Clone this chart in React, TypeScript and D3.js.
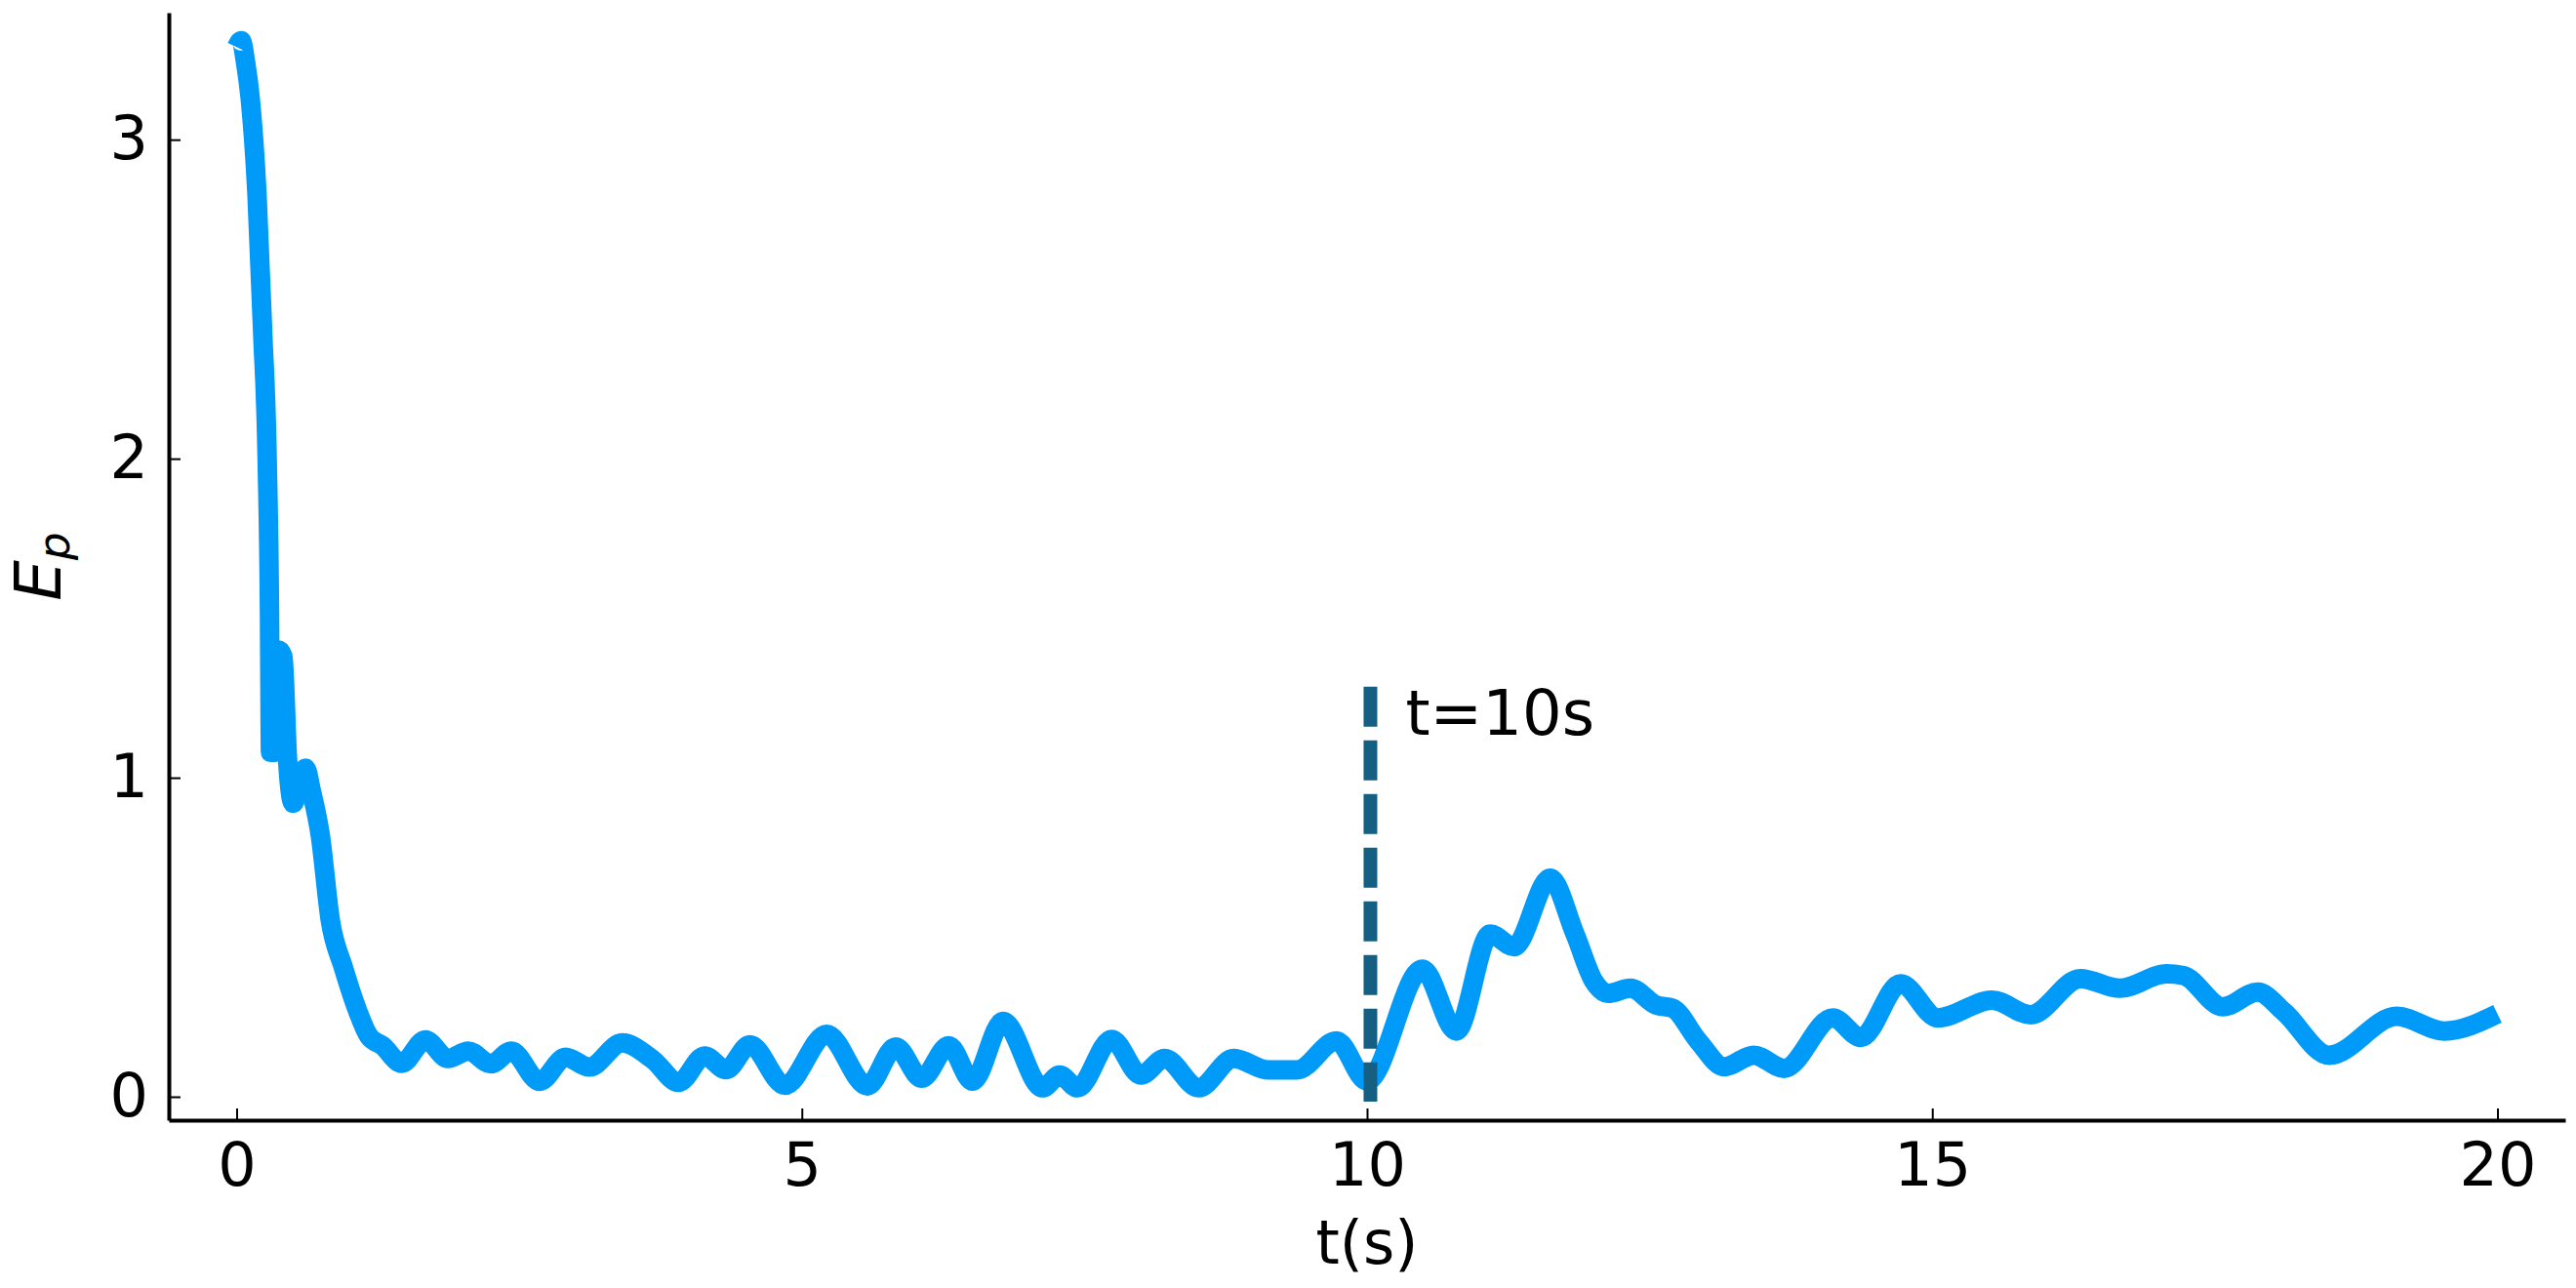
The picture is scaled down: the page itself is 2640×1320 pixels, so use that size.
import React, { useEffect, useRef } from 'react';
import * as d3 from 'd3';

// E_p over time
const timeS = [
  0, 0.04, 0.08, 0.12, 0.18, 0.23, 0.27, 0.29, 0.30, 0.32, 0.34, 0.37, 0.41, 0.45, 0.50,
  0.55, 0.61, 0.66, 0.74, 0.83, 0.94, 1.07, 1.17, 1.29, 1.46, 1.67, 1.87, 2.05, 2.25, 2.43,
  2.68, 2.91, 3.12, 3.41, 3.68, 3.91, 4.14, 4.33, 4.54, 4.85, 5.22, 5.58, 5.83, 6.06, 6.30,
  6.51, 6.78, 7.13, 7.28, 7.44, 7.74, 8.00, 8.21, 8.51, 8.82, 9.13, 9.38, 9.73, 10.0, 10.49,
  10.79, 11.09, 11.30, 11.62, 11.84, 12.01, 12.13, 12.33, 12.56, 12.70, 12.93, 13.16, 13.42,
  13.69, 14.12, 14.37, 14.72, 15.05, 15.53, 15.87, 16.31, 16.66, 17.07, 17.22, 17.57, 17.88,
  18.11, 18.51, 19.11, 19.53, 20.0,
];
const energy = [
  3.29, 3.31, 3.24, 3.13, 2.83, 2.40, 2.00, 1.55, 1.08, 1.40, 1.08, 1.40, 1.38, 1.06, 0.92,
  0.97, 1.03, 0.96, 0.82, 0.55, 0.41, 0.27, 0.19, 0.16, 0.105, 0.178, 0.12, 0.143, 0.103, 0.143,
  0.048, 0.124, 0.093, 0.169, 0.117, 0.045, 0.128, 0.085, 0.163, 0.036, 0.196, 0.034, 0.156, 0.058, 0.16,
  0.049, 0.236, 0.028, 0.068, 0.028, 0.18, 0.068, 0.12, 0.028, 0.12, 0.084, 0.084, 0.175, 0.05, 0.40,
  0.206, 0.51, 0.47, 0.685, 0.51, 0.36, 0.324, 0.34, 0.287, 0.278, 0.175, 0.094, 0.13,
  0.089, 0.247, 0.186, 0.354, 0.247, 0.303, 0.257, 0.37, 0.34, 0.385, 0.38, 0.282, 0.328,
  0.267, 0.13, 0.252, 0.206, 0.26,
];

const xTicks = [0, 5, 10, 15, 20];
const yTicks = [0, 1, 2, 3];
const markerT = 10.03;
const markerSpan = [-0.015, 1.285];
const markerLabel = 't=10s';
const xLabel = 't(s)';

const font = '"DejaVu Sans", sans-serif';

export default function App() {
  const ref = useRef<SVGSVGElement>(null);

  useEffect(() => {
    const svg = d3.select(ref.current);
    svg.selectAll('*').remove();

    const x = d3.scaleLinear().domain([-0.6, 20.6]).range([173, 2629]);
    const y = d3.scaleLinear().domain([-0.0734, 3.398]).range([1148, 13]);

    const xAxis = svg.append('g')
      .attr('transform', `translate(0, ${y.range()[0]})`)
      .call(d3.axisBottom(x).tickValues(xTicks).tickFormat(d3.format('d'))
        .tickSizeInner(-12).tickSizeOuter(0).tickPadding(23));
    const yAxis = svg.append('g')
      .attr('transform', `translate(${x.range()[0]}, 0)`)
      .call(d3.axisLeft(y).tickValues(yTicks).tickFormat(d3.format('d'))
        .tickSizeInner(-12).tickSizeOuter(0).tickPadding(21));

    for (const ax of [xAxis, yAxis]) {
      ax.select('.domain').attr('stroke', '#000').attr('stroke-width', 4)
      ax.selectAll('.tick line').attr('stroke', '#000').attr('stroke-width', 2)
      ax.selectAll('.tick text')
        .attr('fill', '#000')
        .style('font-family', font)
        .style('font-size', '62px')
    }

    const pts = timeS.map((t, i) => [t, energy[i]] as [number, number]);
    const line = d3.line<[number, number]>()
      .x(d => x(d[0]))
      .y(d => y(d[1]))
      .curve(d3.curveMonotoneX);

    svg.append('path')
      .datum(pts)
      .attr('d', line)
      .attr('fill', 'none')
      .attr('stroke', '#009af9')
      .attr('stroke-width', 20)
      .attr('stroke-linejoin', 'round')
      .attr('stroke-linecap', 'butt');

    svg.append('line')
      .attr('x1', x(markerT)).attr('x2', x(markerT))
      .attr('y1', y(markerSpan[1])).attr('y2', y(markerSpan[0]))
      .attr('stroke', '#155f82')
      .attr('stroke-width', 14)
      .attr('stroke-dasharray', '41,14');

    svg.append('text')
      .attr('x', x(markerT) + 36)
      .attr('y', 753)
      .attr('fill', '#000')
      .style('font-family', font)
      .style('font-size', '64px')
      .text(markerLabel);

    svg.append('text')
      .attr('x', (x.range()[0] + x.range()[1]) / 2)
      .attr('y', 1295)
      .attr('text-anchor', 'middle')
      .attr('fill', '#000')
      .style('font-family', font)
      .style('font-size', '62px')
      .text(xLabel);

    const yl = svg.append('text')
      .attr('transform', `translate(62, ${(y.range()[0] + y.range()[1]) / 2}) rotate(-90)`)
      .attr('text-anchor', 'middle')
      .attr('fill', '#000')
      .style('font-family', font)
      .style('font-style', 'italic')
      .style('font-size', '66px');
    yl.append('tspan').text('E');
    yl.append('tspan').attr('dy', 9).style('font-size', '45px').text('p');
  }, []);

  return (
    <svg
      ref={ref}
      width={2640}
      height={1320}
      style={{ position: 'absolute', left: 0, top: 0, background: '#fff' }}
    />
  );
}
